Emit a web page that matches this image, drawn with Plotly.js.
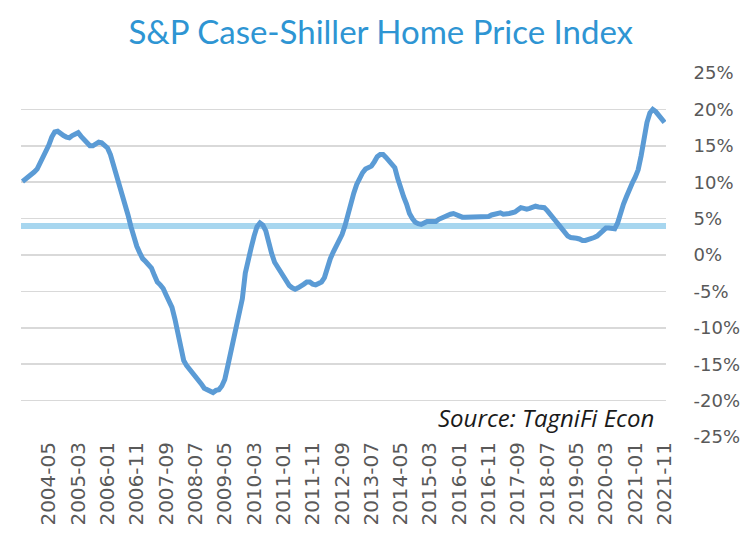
<!DOCTYPE html>
<html>
<head>
<meta charset="utf-8">
<script src="https://cdn.plot.ly/plotly-3.0.1.min.js"></script>
<style>html,body{margin:0;padding:0;background:#fff;}#chart{width:751px;height:536px;}</style>
</head>
<body>
<div id="chart"></div>
<script>
// Monthly series, first month 2003-08
var startYear = 2003, startMonth = 8;
var yoyChange = [
 10.1,10.4,10.6,11.0,11.4,11.8,12.6,13.5,14.3,15.1,
 16.2,16.9,17.0,16.6,16.4,16.2,16.1,16.4,16.6,16.8,
 16.3,15.8,15.3,15.0,15.0,15.2,15.5,15.4,15.1,14.7,
 13.8,12.5,11.0,9.6,8.3,6.9,5.5,3.9,2.4,1.2,
 0.3,-0.5,-0.9,-1.3,-1.8,-2.8,-3.7,-4.1,-4.6,-5.5,
 -6.3,-7.2,-8.8,-10.6,-12.7,-14.5,-15.2,-15.7,-16.1,-16.5,
 -17.0,-17.7,-18.3,-18.5,-18.7,-18.9,-18.6,-18.5,-18.0,-17.1,
 -15.3,-13.5,-11.6,-9.8,-8.0,-6.0,-2.5,-0.4,1.0,2.6,
 3.9,4.4,4.1,3.3,1.5,0.2,-1.0,-1.7,-2.4,-3.1,
 -3.7,-4.2,-4.5,-4.7,-4.5,-4.3,-4.0,-3.7,-3.7,-4.0,
 -4.1,-3.9,-3.7,-3.1,-1.5,-0.5,0.4,1.2,1.9,2.8,
 4.0,5.7,7.2,8.5,9.7,10.7,11.3,11.8,12.0,12.2,
 12.8,13.5,13.8,13.8,13.4,13.0,12.5,12.0,10.5,8.9,
 8.0,7.0,5.7,5.0,4.5,4.3,4.2,4.4,4.6,4.6,
 4.6,4.6,4.9,5.1,5.3,5.4,5.6,5.7,5.5,5.3,
 5.2,5.2,5.2,5.2,5.2,5.3,5.3,5.2,5.2,5.3,
 5.5,5.6,5.7,5.8,5.6,5.6,5.7,5.8,5.9,6.2,
 6.5,6.4,6.3,6.4,6.6,6.7,6.6,6.5,6.5,6.1,
 5.5,5.1,4.6,4.1,3.5,3.0,2.6,2.4,2.4,2.3,
 2.2,2.0,2.0,2.1,2.2,2.4,2.6,2.9,3.3,3.7,
 3.7,3.6,3.6,4.4,5.9,7.0,8.0,9.1,9.9,10.7,
 11.7,13.6,16.0,18.2,19.5,20.0,19.7,19.1,18.5,18.2
];
var referenceLevel = 4;
var yTicks = [-25,-20,-15,-10,-5,0,5,10,15,20,25];
var yTickLabels = ['-25%','-20%','-15%','-10%','-5%','0%','5%','10%','15%','20%','25%'];
var firstTickIndex = 9, tickEvery = 10;
var titleText = 'S&amp;P Case-Shiller Home Price Index';
var sourceText = 'Source: TagniFi Econ';

var months = [];
for (var i = 0; i < yoyChange.length; i++) {
  var m = startMonth - 1 + i;
  var y = startYear + Math.floor(m / 12);
  var mm = (m % 12) + 1;
  months.push(y + '-' + (mm < 10 ? '0' + mm : '' + mm));
}
var tickVals = [];
for (var k = firstTickIndex; k < months.length; k += tickEvery) tickVals.push(months[k]);

// pad shorter labels with no-break spaces so the right-side labels line up on the left
var padCount = {'-25%':0,'-20%':0,'-15%':0,'-10%':0,'-5%':2,'0%':3,'5%':3,'10%':1,'15%':1,'20%':1,'25%':1};
var yTickText = yTickLabels.map(function (t) {
  var s = t; for (var p = 0; p < (padCount[t] || 0); p++) s += '\u00A0'; return s;
});

var trace = {
  x: months, y: yoyChange, type: 'scatter', mode: 'lines',
  line: {color: '#5B9BD5', width: 5, shape: 'linear'},
  hoverinfo: 'x+y'
};

var layout = {
  width: 751, height: 536,
  margin: {l: 21, r: 85, t: 73, b: 98.5},
  paper_bgcolor: '#ffffff', plot_bgcolor: '#ffffff',
  showlegend: false,
  title: {text: titleText, x: 0.507, xanchor: 'center', y: 0.94, yanchor: 'middle',
          font: {family: 'Lato, sans-serif', size: 33, color: '#2E95D3'}},
  xaxis: {
    type: 'category', range: [-0.5, months.length - 0.5],
    tickmode: 'array', tickvals: tickVals, ticktext: tickVals,
    tickangle: -90, showgrid: false, zeroline: false, showline: false, ticks: '',
    tickfont: {family: 'DejaVu Sans, sans-serif', size: 20, color: '#595959'}
  },
  yaxis: {
    side: 'right', range: [-25, 25], tickmode: 'array', tickvals: yTicks, ticktext: yTickText,
    showgrid: true, gridcolor: '#D9D9D9', gridwidth: 1.5,
    zeroline: false, showline: false, ticks: 'outside', ticklen: 23, tickcolor: 'rgba(0,0,0,0)',
    tickfont: {family: 'DejaVu Sans, sans-serif', size: 18, color: '#595959'}
  },
  shapes: [{
    type: 'line', xref: 'paper', x0: 0, x1: 1, yref: 'y', y0: referenceLevel, y1: referenceLevel,
    line: {color: '#A7D6EF', width: 6}, layer: 'between'
  }],
  annotations: [{
    text: sourceText, xref: 'paper', yref: 'paper', x: 0.985, y: 0.053,
    xanchor: 'right', yanchor: 'middle', showarrow: false,
    font: {family: 'Open Sans, sans-serif', size: 24, color: '#1a1a1a', style: 'italic'}
  }]
};

Plotly.newPlot('chart', [trace], layout, {displayModeBar: false, staticPlot: true});
</script>
</body>
</html>
